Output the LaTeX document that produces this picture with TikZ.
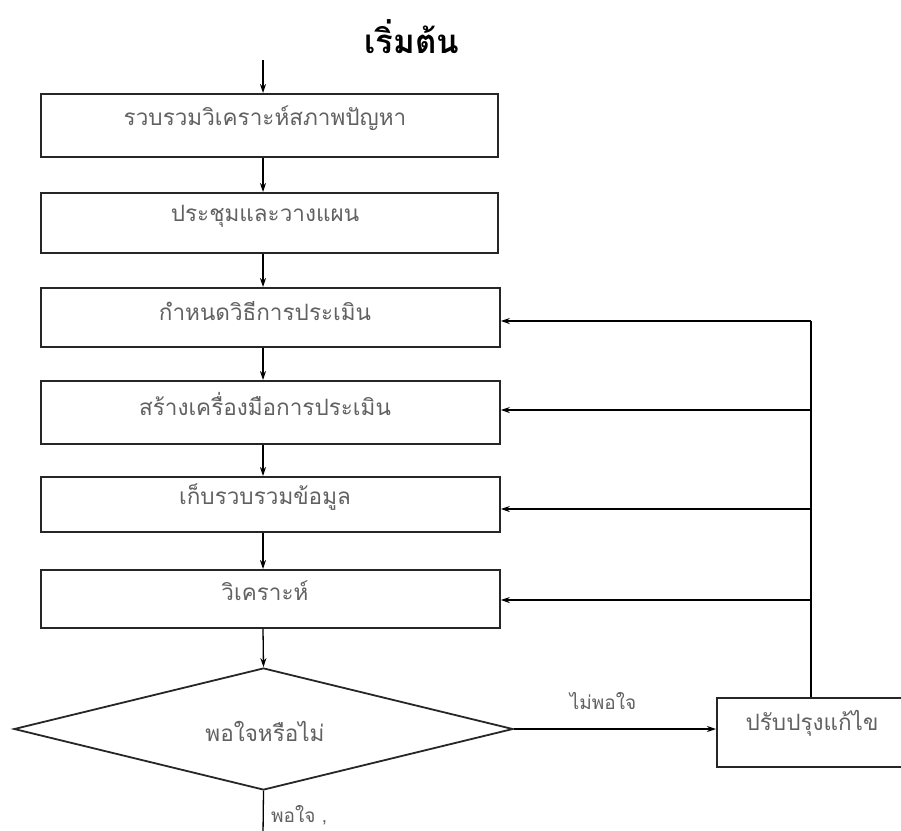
\documentclass[tikz,border=0pt]{standalone}
\usepackage{fontspec}
\usetikzlibrary{shapes.geometric,arrows.meta}
\newfontfamily\thai[Script=Thai]{Loma}
\begin{document}
\begin{tikzpicture}[x=1pt,y=-1pt,
  boxshape/.style={draw=black!85,line width=1.8pt,rectangle,inner sep=0pt,anchor=north west},
  lbl/.style={font=\thai\fontsize{22.5}{26}\selectfont,text=black!62,inner sep=0pt},
  small/.style={font=\thai\fontsize{19}{22}\selectfont},
  arr/.style={line width=1.3pt,-{Stealth[length=9pt,width=6pt]}},
  ln/.style={line width=1.3pt}]
\useasboundingbox (0,0) rectangle (901,830);
\node[font=\thai\bfseries\fontsize{33}{38}\selectfont,inner sep=0pt] (title) at (412,37) {เริ่มต้น};
\coordinate (start) at (263,60);
\node[boxshape,minimum width=457pt,minimum height=63pt] (b1) at (40,93) {};
\node[boxshape,minimum width=457pt,minimum height=60pt] (b2) at (40,192) {};
\node[boxshape,minimum width=459pt,minimum height=59pt] (b3) at (40,287) {};
\node[boxshape,minimum width=459pt,minimum height=63pt] (b4) at (40,380) {};
\node[boxshape,minimum width=459pt,minimum height=55pt] (b5) at (40,476) {};
\node[boxshape,minimum width=459pt,minimum height=58pt] (b6) at (40,569) {};
\node[draw=black!85,line width=1.8pt,diamond,inner sep=0pt,minimum width=499pt,minimum height=122pt] (d) at (263.5,729) {};
\node[boxshape,minimum width=230pt,minimum height=69pt] (b7) at (716,697) {};
\node[lbl] (t1) at (265,118) {รวบรวมวิเคราะห์สภาพปัญหา};
\node[lbl] (t2) at (265,216) {ประชุมและวางแผน};
\node[lbl] (t3) at (265,311) {กำหนดวิธีการประเมิน};
\node[lbl] (t4) at (265,404) {สร้างเครื่องมือการประเมิน};
\node[lbl] (t5) at (265,497) {เก็บรวบรวมข้อมูล};
\node[lbl] (t6) at (265,591) {วิเคราะห์};
\node[lbl] (td) at (265,731) {พอใจหรือไม่};
\node[lbl] (t7) at (812,723) {ปรับปรุงแก้ไข};
\node[lbl,small] (no) at (603,701) {ไม่พอใจ};
\node[lbl,small,anchor=west] (yes) at (271,815) {พอใจ ,};
\coordinate (bottom) at (263,835);
\coordinate (up) at (811,321);
\coordinate (f4) at (811,410);
\coordinate (f5) at (811,509);
\coordinate (f6) at (811,600);
\draw[arr] (start) -- (b1.north -| start);
\draw[arr] (b1.south -| start) -- (b2.north -| start);
\draw[arr] (b2.south -| start) -- (b3.north -| start);
\draw[arr] (b3.south -| start) -- (b4.north -| start);
\draw[arr] (b4.south -| start) -- (b5.north -| start);
\draw[arr] (b5.south -| start) -- (b6.north -| start);
\draw[arr] (b6.south -| start) -- (d.north);
\draw[arr] (d.east) -- (b7.west |- d.east);
\draw[ln] (b7.north -| up) -- (up);
\draw[arr] (up) -- (b3.east |- up);
\draw[arr] (f4) -- (b4.east |- f4);
\draw[arr] (f5) -- (b5.east |- f5);
\draw[arr] (f6) -- (b6.east |- f6);
\draw[ln] (d.south) -- (bottom);
\end{tikzpicture}
\end{document}
